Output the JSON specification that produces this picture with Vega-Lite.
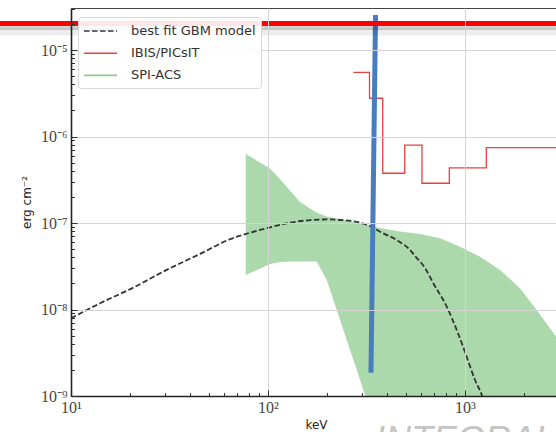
{
  "$schema": "https://vega.github.io/schema/vega-lite/v6.json",
  "width": 490,
  "height": 388,
  "autosize": {"type": "none"},
  "padding": {"left": 71, "top": 8, "right": 0, "bottom": 36},
  "background": "white",
  "datasets": {
    "spi": [
      {"series": "SPI-ACS", "e": 77.1, "hi": 6.28e-7, "lo": 2.51e-8},
      {"series": "SPI-ACS", "e": 88.97, "hi": 5.17e-7, "lo": 2.9e-8},
      {"series": "SPI-ACS", "e": 102.4, "hi": 4.28e-7, "lo": 3.36e-8},
      {"series": "SPI-ACS", "e": 115.1, "hi": 3.2e-7, "lo": 3.54e-8},
      {"series": "SPI-ACS", "e": 129.3, "hi": 2.38e-7, "lo": 3.59e-8},
      {"series": "SPI-ACS", "e": 145.3, "hi": 1.75e-7, "lo": 3.59e-8},
      {"series": "SPI-ACS", "e": 163.4, "hi": 1.47e-7, "lo": 3.59e-8},
      {"series": "SPI-ACS", "e": 176.7, "hi": 1.32e-7, "lo": 3.59e-8},
      {"series": "SPI-ACS", "e": 198.6, "hi": 1.19e-7, "lo": 2.19e-8},
      {"series": "SPI-ACS", "e": 223.3, "hi": 1.13e-7, "lo": 9.86e-9},
      {"series": "SPI-ACS", "e": 250.9, "hi": 1.07e-7, "lo": 4.43e-9},
      {"series": "SPI-ACS", "e": 282.1, "hi": 1.01e-7, "lo": 2.0e-9},
      {"series": "SPI-ACS", "e": 310.8, "hi": 9.62e-8, "lo": 1.03e-9},
      {"series": "SPI-ACS", "e": 370.3, "hi": 8.75e-8, "lo": 1e-10},
      {"series": "SPI-ACS", "e": 467.9, "hi": 7.98e-8, "lo": 1e-10},
      {"series": "SPI-ACS", "e": 591.0, "hi": 7.46e-8, "lo": 1e-10},
      {"series": "SPI-ACS", "e": 746.8, "hi": 6.65e-8, "lo": 1e-10},
      {"series": "SPI-ACS", "e": 943.2, "hi": 5.32e-8, "lo": 1e-10},
      {"series": "SPI-ACS", "e": 1192, "hi": 4.07e-8, "lo": 1e-10},
      {"series": "SPI-ACS", "e": 1506, "hi": 2.86e-8, "lo": 1e-10},
      {"series": "SPI-ACS", "e": 1902, "hi": 1.76e-8, "lo": 1e-10},
      {"series": "SPI-ACS", "e": 2312, "hi": 9.86e-9, "lo": 1e-10},
      {"series": "SPI-ACS", "e": 2897, "hi": 4.86e-9, "lo": 1e-10},
      {"series": "SPI-ACS", "e": 3300, "hi": 3.3e-9, "lo": 1e-10}
    ],
    "gbm": [
      {"series": "best fit GBM model", "e": 10.0, "f": 7.91e-9},
      {"series": "best fit GBM model", "e": 14.04, "f": 1.18e-8},
      {"series": "best fit GBM model", "e": 20.71, "f": 1.79e-8},
      {"series": "best fit GBM model", "e": 30.6, "f": 2.87e-8},
      {"series": "best fit GBM model", "e": 45.2, "f": 4.39e-8},
      {"series": "best fit GBM model", "e": 64.1, "f": 6.49e-8},
      {"series": "best fit GBM model", "e": 81.0, "f": 7.73e-8},
      {"series": "best fit GBM model", "e": 102.4, "f": 8.91e-8},
      {"series": "best fit GBM model", "e": 129.3, "f": 1.007e-7},
      {"series": "best fit GBM model", "e": 163.4, "f": 1.08e-7},
      {"series": "best fit GBM model", "e": 198.6, "f": 1.1e-7},
      {"series": "best fit GBM model", "e": 241.1, "f": 1.08e-7},
      {"series": "best fit GBM model", "e": 293.1, "f": 1.01e-7},
      {"series": "best fit GBM model", "e": 329.5, "f": 9.22e-8},
      {"series": "best fit GBM model", "e": 370.3, "f": 7.92e-8},
      {"series": "best fit GBM model", "e": 450.2, "f": 6.35e-8},
      {"series": "best fit GBM model", "e": 525.8, "f": 4.88e-8},
      {"series": "best fit GBM model", "e": 557.6, "f": 4.15e-8},
      {"series": "best fit GBM model", "e": 626.6, "f": 3.02e-8},
      {"series": "best fit GBM model", "e": 690.5, "f": 2.01e-8},
      {"series": "best fit GBM model", "e": 807.6, "f": 1.08e-8},
      {"series": "best fit GBM model", "e": 907.9, "f": 5.79e-9},
      {"series": "best fit GBM model", "e": 1020, "f": 2.84e-9},
      {"series": "best fit GBM model", "e": 1124, "f": 1.53e-9},
      {"series": "best fit GBM model", "e": 1216, "f": 1.03e-9},
      {"series": "best fit GBM model", "e": 1260, "f": 8e-10}
    ],
    "ibis": [
      {"series": "IBIS/PICsIT", "e": 271.0, "f": 5.5e-6},
      {"series": "IBIS/PICsIT", "e": 327.5, "f": 2.77e-6},
      {"series": "IBIS/PICsIT", "e": 382.2, "f": 3.76e-7},
      {"series": "IBIS/PICsIT", "e": 494.2, "f": 7.93e-7},
      {"series": "IBIS/PICsIT", "e": 604.8, "f": 2.88e-7},
      {"series": "IBIS/PICsIT", "e": 832.5, "f": 4.35e-7},
      {"series": "IBIS/PICsIT", "e": 1283, "f": 7.43e-7},
      {"series": "IBIS/PICsIT", "e": 3500, "f": 7.43e-7}
    ],
    "blue": [
      {"e": 351.4, "f": 2.54e-5},
      {"e": 333.2, "f": 1.86e-9}
    ],
    "redline": [
      {"e": 4.36, "e2": 3500, "f": 2.02e-5}
    ],
    "shadow": [
      {"e": 4.36, "e2": 3500, "f": 1.82e-5, "w": 5, "o": 0.16},
      {"e": 4.36, "e2": 3500, "f": 1.64e-5, "w": 8, "o": 0.07}
    ],
    "watermark": [
      {"e": 349, "f": 2.25e-10, "label": "INTEGRAL"}
    ]
  },
  "config": {
    "font": "DejaVu Sans",
    "view": {"stroke": "#444", "strokeWidth": 1}
  },
  "layer": [
    {
      "data": {"name": "spi"},
      "mark": {"type": "area", "fillOpacity": 0.72, "clip": true},
      "encoding": {
        "x": {
          "field": "e", "type": "quantitative",
          "scale": {"type": "log", "domain": [10, 3071], "nice": false},
          "axis": {
            "title": "keV",
            "titleFont": "DejaVu Sans", "titleFontSize": 12, "titleFontWeight": "normal", "titleColor": "#222",
            "titlePadding": 4,
            "values": [10,20,30,40,50,60,70,80,90,100,200,300,400,500,600,700,800,900,1000,2000,3000],
            "labelExpr": "abs(log(datum.value)/LN10 - round(log(datum.value)/LN10)) < 0.001 ? '10' + ['⁰','¹','²','³','⁴'][round(log(datum.value)/LN10)] : ''",
            "labelFont": "Liberation Serif", "labelFontSize": 16, "labelColor": "#444",
            "labelPadding": 9,
            "labelFlush": false,
            "domainColor": "#222", "domainWidth": 1.6,
            "tickColor": "#333", "tickWidth": 1,
            "tickSize": {"condition": {"test": "abs(log(datum.value)/LN10 - round(log(datum.value)/LN10)) < 0.001", "value": -6}, "value": -3.5},
            "grid": true, "gridColor": "#d4d4d4", "gridWidth": 1,
            "gridOpacity": {"condition": {"test": "abs(log(datum.value)/LN10 - round(log(datum.value)/LN10)) < 0.001", "value": 1}, "value": 0},
            "zindex": -2
          }
        },
        "y": {
          "field": "hi", "type": "quantitative",
          "scale": {"type": "log", "domain": [1e-9, 3.06e-5], "nice": false},
          "axis": {
            "title": "erg cm⁻²",
            "titleFont": "DejaVu Sans", "titleFontSize": 12, "titleFontWeight": "normal", "titleColor": "#222",
            "titlePadding": 7,
            "values": [1e-9,2e-9,3e-9,4e-9,5e-9,6e-9,7e-9,8e-9,9e-9,1e-8,2e-8,3e-8,4e-8,5e-8,6e-8,7e-8,8e-8,9e-8,1e-7,2e-7,3e-7,4e-7,5e-7,6e-7,7e-7,8e-7,9e-7,1e-6,2e-6,3e-6,4e-6,5e-6,6e-6,7e-6,8e-6,9e-6,1e-5,2e-5,3e-5],
            "labelExpr": "abs(log(datum.value)/LN10 - round(log(datum.value)/LN10)) < 0.001 ? '10⁻' + ['⁰','¹','²','³','⁴','⁵','⁶','⁷','⁸','⁹'][-round(log(datum.value)/LN10)] : ''",
            "labelFont": "Liberation Serif", "labelFontSize": 16, "labelColor": "#444",
            "labelPadding": 10,
            "labelFlush": false,
            "domainColor": "#222", "domainWidth": 1.6,
            "tickColor": "#333", "tickWidth": 1,
            "tickSize": {"condition": {"test": "abs(log(datum.value)/LN10 - round(log(datum.value)/LN10)) < 0.001", "value": -6}, "value": -3.5},
            "grid": true, "gridColor": "#d4d4d4", "gridWidth": 1,
            "gridOpacity": {"condition": {"test": "abs(log(datum.value)/LN10 - round(log(datum.value)/LN10)) < 0.001", "value": 1}, "value": 0},
            "zindex": -2
          }
        },
        "y2": {"field": "lo"},
        "color": {
          "field": "series", "type": "nominal",
          "scale": {"domain": ["best fit GBM model", "IBIS/PICsIT", "SPI-ACS"], "range": ["#333333", "#e8413f", "#8ccb8c"]},
          "legend": {
            "title": null,
            "orient": "none", "legendX": 7, "legendY": 9,
            "zindex": -1,
            "labelFont": "DejaVu Sans", "labelFontSize": 13, "labelColor": "#333",
            "labelOffset": 21.5,
            "symbolOffset": 8.5,
            "symbolType": "M-2.06,0H2.06", "symbolSize": 256, "symbolStrokeWidth": 1.6,
            "symbolOpacity": 1,
            "rowPadding": 6.2,
            "padding": 5,
            "fillColor": "rgba(255,255,255,0.9)", "strokeColor": "#d8d8d8", "cornerRadius": 3
          }
        }
      }
    },
    {
      "data": {"name": "gbm"},
      "mark": {"type": "line", "clip": true, "strokeWidth": 1.8, "interpolate": "monotone"},
      "encoding": {
        "x": {"field": "e", "type": "quantitative"},
        "y": {"field": "f", "type": "quantitative"},
        "color": {"field": "series", "type": "nominal"},
        "strokeDash": {
          "field": "series", "type": "nominal",
          "scale": {"domain": ["best fit GBM model", "IBIS/PICsIT", "SPI-ACS"], "range": [[5.5, 2.5], [1, 0], [1, 0]]},
          "legend": {"title": null}
        }
      }
    },
    {
      "data": {"name": "ibis"},
      "mark": {"type": "line", "clip": true, "strokeWidth": 1.3, "interpolate": "step-after"},
      "encoding": {
        "x": {"field": "e", "type": "quantitative"},
        "y": {"field": "f", "type": "quantitative"},
        "color": {"field": "series", "type": "nominal"}
      }
    },
    {
      "data": {"name": "blue"},
      "mark": {"type": "line", "strokeWidth": 5, "color": "#4a7cc0", "strokeCap": "butt"},
      "encoding": {
        "x": {"field": "e", "type": "quantitative"},
        "y": {"field": "f", "type": "quantitative"}
      }
    },
    {
      "data": {"name": "shadow"},
      "mark": {"type": "rule", "color": "#000000"},
      "encoding": {
        "x": {"field": "e", "type": "quantitative"},
        "x2": {"field": "e2"},
        "y": {"field": "f", "type": "quantitative"},
        "strokeWidth": {"field": "w", "type": "quantitative", "scale": null},
        "opacity": {"field": "o", "type": "quantitative", "scale": null}
      }
    },
    {
      "data": {"name": "redline"},
      "mark": {"type": "rule", "color": "#ff0000", "strokeWidth": 5},
      "encoding": {
        "x": {"field": "e", "type": "quantitative"},
        "x2": {"field": "e2"},
        "y": {"field": "f", "type": "quantitative"}
      }
    },
    {
      "data": {"name": "watermark"},
      "mark": {"type": "text", "align": "left", "baseline": "alphabetic", "font": "Liberation Sans", "fontSize": 36, "fontStyle": "italic", "color": "#c4c4c4"},
      "encoding": {
        "x": {"field": "e", "type": "quantitative"},
        "y": {"field": "f", "type": "quantitative"},
        "text": {"field": "label"}
      }
    }
  ]
}
